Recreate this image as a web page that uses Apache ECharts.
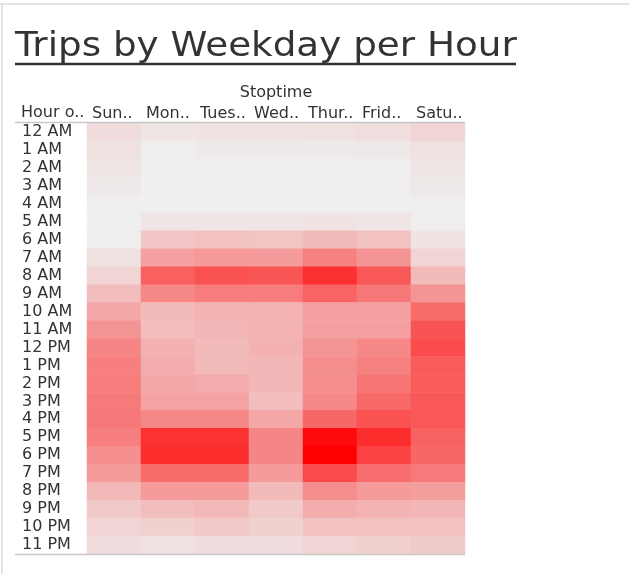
<!DOCTYPE html>
<html><head><meta charset="utf-8">
<script src="https://cdn.jsdelivr.net/npm/echarts@6/dist/echarts.min.js"></script>
<style>html,body{margin:0;padding:0;background:#fff}#c{width:630px;height:574px}</style>
</head><body><div id="c"></div>
<script>
const days = ['Sun..','Mon..','Tues..','Wed..','Thur..','Frid..','Satu..'];
const hours = ['12 AM','1 AM','2 AM','3 AM','4 AM','5 AM','6 AM','7 AM','8 AM','9 AM','10 AM','11 AM',
  '12 PM','1 PM','2 PM','3 PM','4 PM','5 PM','6 PM','7 PM','8 PM','9 PM','10 PM','11 PM'];
// trip intensity per hour (rows) for each weekday (Sun..Sat)
const sun = [8,6,4,3,1,0,1,6,11,21,30,38,44,47,48,49,50,47,40,35,23,16,11,8];
const mon = [4,1,0,0,0,4,17,33,60,43,22,21,26,28,30,32,43,79,81,55,35,21,13,6];
const tue = [5,2,0,0,0,4,19,36,66,48,25,24,22,22,28,32,43,79,81,55,35,23,16,8];
const wed = [5,2,0,0,0,4,18,35,64,48,25,25,26,24,24,21,30,44,44,35,22,16,13,8];
const thu = [6,2,0,0,0,5,22,46,80,58,33,33,38,40,40,43,57,96,100,69,41,28,19,11];
const fri = [7,3,1,1,0,4,19,38,63,50,33,33,43,46,51,56,66,81,72,54,35,25,19,13];
const sat = [11,6,4,3,1,1,5,11,22,38,55,65,68,62,62,63,63,59,57,49,34,24,19,15];
const series = [sun,mon,tue,wed,thu,fri,sat];

const data = [];
series.forEach((col, x) => col.forEach((v, y) => data.push([x, y, v])));

const FONT = '"DejaVu Sans"';
const FS = 16;
const chart = echarts.init(document.getElementById('c'));
chart.setOption({
  animation: false,
  textStyle: {fontFamily: FONT},
  grid: {left: 87, right: 165, top: 123, bottom: 20},
  xAxis: {
    type: 'category', data: days, position: 'top',
    name: 'Stoptime', nameLocation: 'middle', nameGap: 20,
    nameTextStyle: {fontSize: FS, color: '#333', fontFamily: FONT},
    axisLine: {show: false}, axisTick: {show: false}, splitLine: {show: false},
    axisLabel: {interval: 0, margin: 1, color: '#333', fontSize: FS, fontFamily: FONT,
      formatter: v => '{a|' + v + '}',
      rich: {a: {width: 44, align: 'left', fontSize: FS, color: '#333', fontFamily: FONT}}}
  },
  yAxis: {
    type: 'category', data: hours, inverse: true,
    axisLine: {show: false}, axisTick: {show: false}, splitLine: {show: false},
    axisLabel: {interval: 0, align: 'left', margin: 65, color: '#333', fontSize: FS, fontFamily: FONT}
  },
  visualMap: {show: false, min: 0, max: 100, dimension: 2,
    inRange: {color: ['#efefef', '#ff0000']}},
  graphic: [
    {type: 'line', shape: {x1: 0, y1: 4, x2: 630, y2: 4}, style: {stroke: '#dcdcdc', lineWidth: 1.5}},
    {type: 'line', shape: {x1: 2, y1: 4, x2: 2, y2: 574}, style: {stroke: '#dcdcdc', lineWidth: 1.5}},
    {type: 'text', x: 15, y: 47, scaleX: 1.13,
      style: {text: 'Trips by Weekday per Hour', fontSize: 33, fill: '#333', fontFamily: FONT, verticalAlign: 'middle'}},
    {type: 'line', shape: {x1: 15, y1: 64, x2: 516, y2: 64}, style: {stroke: '#333', lineWidth: 2.5}},
    {type: 'text', x: 21, y: 113, style: {text: 'Hour o..', fontSize: FS, fill: '#333', fontFamily: FONT, verticalAlign: 'middle'}},
    {type: 'line', z: 10, shape: {x1: 15, y1: 122.5, x2: 465, y2: 122.5}, style: {stroke: '#c8c8c8', lineWidth: 1.5}},
    {type: 'line', z: 10, shape: {x1: 15, y1: 554.5, x2: 465, y2: 554.5}, style: {stroke: '#c8c8c8', lineWidth: 1.5}}
  ],
  series: [{type: 'heatmap', data: data, itemStyle: {borderWidth: 0}}]
});
</script></body></html>
